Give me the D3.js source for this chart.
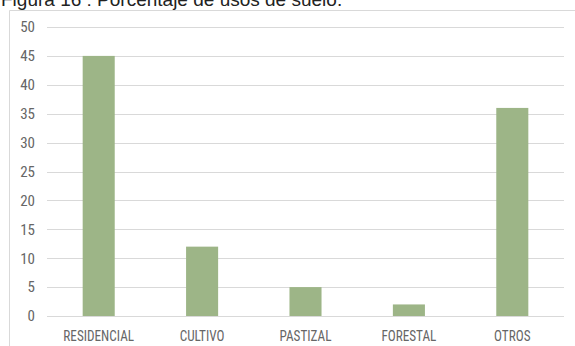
<!DOCTYPE html>
<html><head><meta charset="utf-8">
<script src="https://cdn.jsdelivr.net/npm/d3@7"></script>
<style>body{margin:0;background:#fff}</style>
</head><body>
<script>
const categories = ["RESIDENCIAL","CULTIVO","PASTIZAL","FORESTAL","OTROS"];
const values = [45,12,5,2,36];
const yTicks = [0,5,10,15,20,25,30,35,40,45,50];
const title = "Figura 16 : Porcentaje de usos de suelo.";

const W=575,H=346;
const svg=d3.select("body").append("svg").attr("width",W).attr("height",H);
const narrow="'Liberation Sans Narrow','Roboto Condensed','Liberation Sans',Arial,sans-serif";
const regular="'Liberation Sans',Arial,sans-serif";

svg.append("text").attr("x",1).attr("y",6).attr("font-family",regular)
  .attr("font-size",19).attr("fill","#222").text(title);

// chart frame
svg.append("path").attr("d","M9.5,346 V10.5 H575").attr("fill","none").attr("stroke","#d9d9d9");

const x=d3.scaleBand().domain(categories).range([47,564]).paddingInner(0.69).paddingOuter(0.345);
const y=d3.scaleLinear().domain([0,50]).range([316,27]);

const g=svg.append("g");
g.selectAll("line.grid").data(yTicks).join("line").attr("class","grid")
  .attr("x1",47).attr("x2",564).attr("y1",d=>Math.round(y(d))+0.5).attr("y2",d=>Math.round(y(d))+0.5)
  .attr("stroke","#d9d9d9");

const yAxis=d3.axisLeft(y).tickValues(yTicks).tickSize(0).tickPadding(0);
const ya=svg.append("g").attr("transform","translate(35,0)").call(yAxis);
ya.select(".domain").remove();
ya.selectAll("text").attr("font-family",narrow).attr("font-size",15).attr("fill","#666");

g.selectAll("rect").data(values).join("rect")
  .attr("x",(d,i)=>x(categories[i])).attr("width",x.bandwidth())
  .attr("y",d=>y(d)).attr("height",d=>y(0)-y(d))
  .attr("fill","#9db587");

const xAxis=d3.axisBottom(x).tickSize(0).tickPadding(0);
const xa=svg.append("g").attr("transform","translate(0,341)").call(xAxis);
xa.select(".domain").remove();
xa.selectAll("text").attr("font-family",narrow).attr("font-size",15).attr("fill","#666")
  .attr("dy",0).attr("y",0).attr("transform","scale(0.88,1)");
</script>
</body></html>
